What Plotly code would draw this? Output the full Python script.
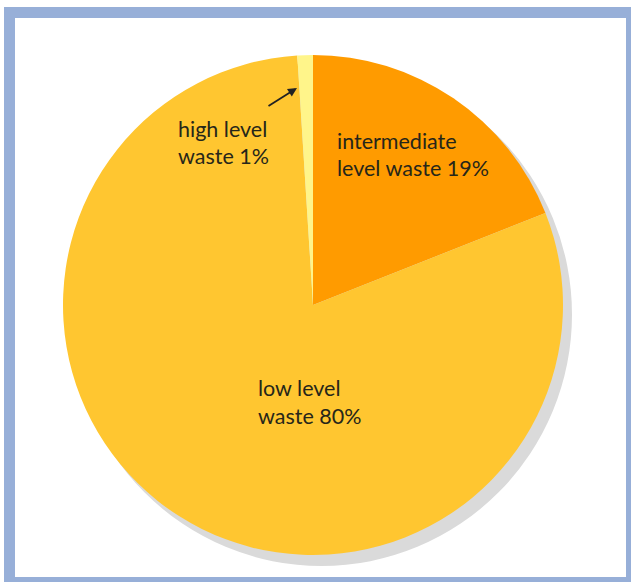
import plotly.graph_objects as go

# Data
labels = ["intermediate level waste", "low level waste", "high level waste"]
values = [19, 80, 1]
colors = ["#FF9B00", "#FFC630", "#FFF58A"]
label_lines = [["intermediate", "level waste 19%"], ["low level", "waste 80%"], ["high level", "waste 1%"]]

W, H = 631, 582
def px(x):
    return x / W
def py(y):
    return 1 - y / H

cx, cy, r = 313, 305, 250

fig = go.Figure()
fig.add_trace(go.Pie(
    labels=labels, values=values, sort=False, direction="clockwise", rotation=0,
    marker=dict(colors=colors, line=dict(width=0)),
    textinfo="none", hoverinfo="label+percent", showlegend=False,
    domain=dict(x=[px(cx - r), px(cx + r)], y=[py(cy + r), py(cy - r)]),
))

shapes = [
    # frame
    dict(type="rect", xref="paper", yref="paper", x0=px(4), x1=px(631), y0=py(582), y1=py(7),
         fillcolor="#97AFD8", line=dict(width=0), layer="below"),
    dict(type="rect", xref="paper", yref="paper", x0=px(15), x1=px(626), y0=py(577), y1=py(18),
         fillcolor="white", line=dict(width=0), layer="below"),
    # shadow
    dict(type="circle", xref="paper", yref="paper", x0=px(cx - r + 8), x1=px(cx + r + 9),
         y0=py(cy + r + 11), y1=py(cy - r + 8), fillcolor="#DADADA", line=dict(width=0), layer="below"),
]

line_pos = [[(335, 141), (335, 168)], [(256, 388), (256, 416)], [(176, 129), (176, 156)]]
annotations = []
for lines, poss in zip(label_lines, line_pos):
    for t, (x, y) in zip(lines, poss):
        annotations.append(dict(x=px(x), y=py(y), xref="paper", yref="paper", text=t, showarrow=False,
                                xanchor="left", yanchor="middle",
                                font=dict(family="Lato", size=21.5, color="#26261A")))
annotations.append(dict(x=px(297), y=py(88), xref="paper", yref="paper", text="", showarrow=True,
                        ax=-30, ay=19, arrowhead=2, arrowsize=1, arrowwidth=1.8, arrowcolor="#222222"))

fig.update_layout(width=W, height=H, margin=dict(l=0, r=0, t=0, b=0),
                  paper_bgcolor="white", plot_bgcolor="white",
                  shapes=shapes, annotations=annotations)
fig.write_html("out.html", config={"displayModeBar": False},
               post_script="document.body.style.margin='0';document.body.style.overflow='hidden';")
